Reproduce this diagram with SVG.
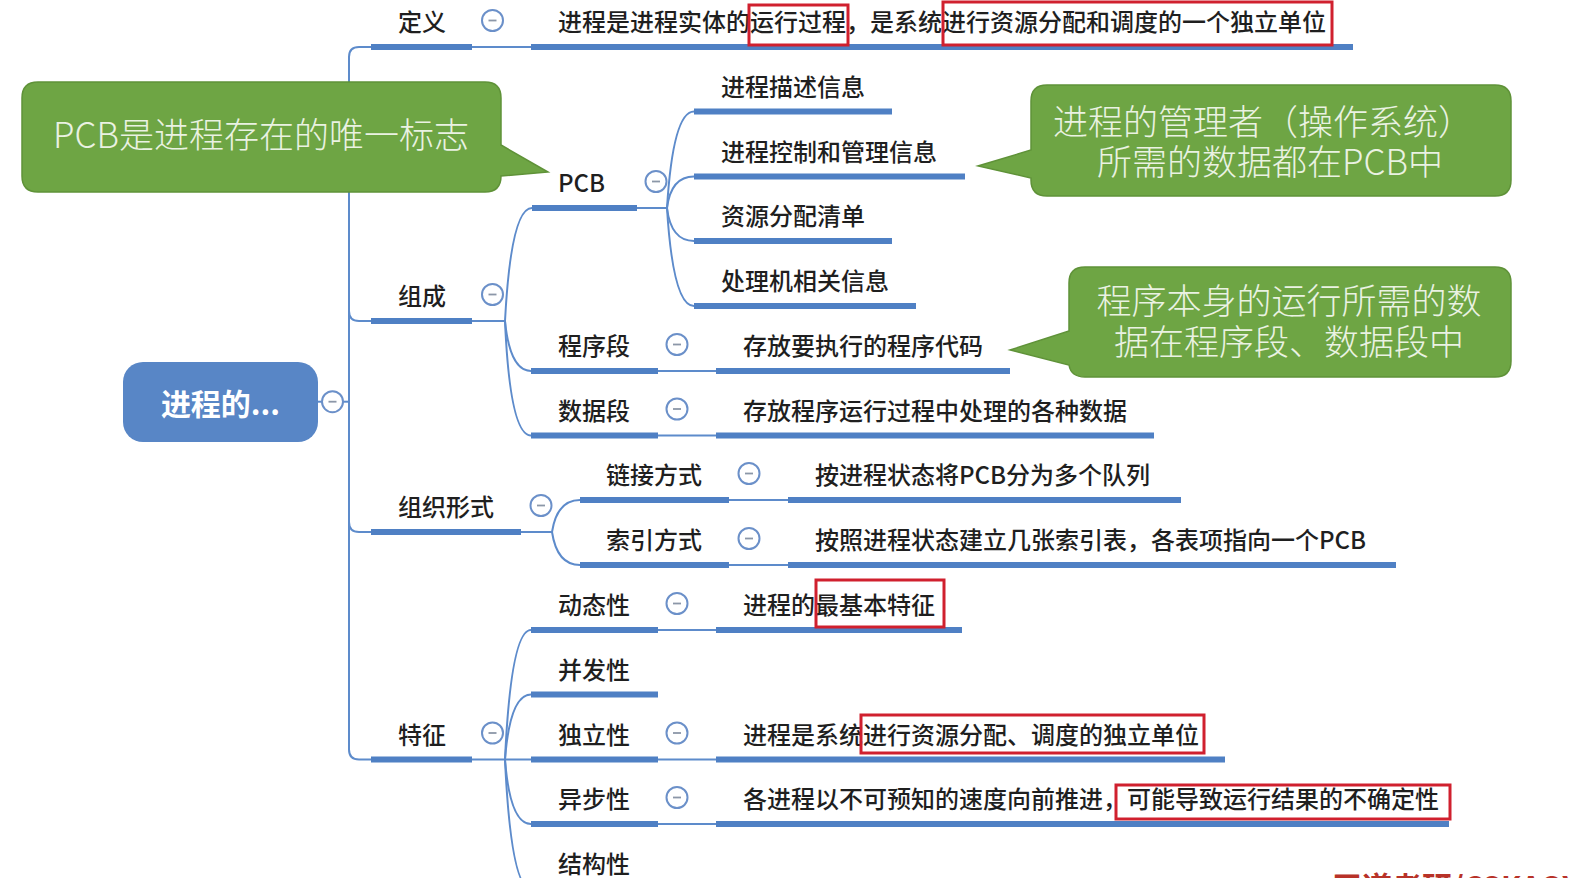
<svg xmlns="http://www.w3.org/2000/svg" xmlns:xlink="http://www.w3.org/1999/xlink" width="1572" height="878" viewBox="0 0 1572 878">
<style>
.bar{stroke:#4f80c4;stroke-width:6;fill:none}
.ln{stroke:#5d8bcb;stroke-width:2;fill:none}
.lbl{font-family:"Noto Sans CJK SC","Noto Sans",sans-serif;font-size:24px;font-weight:500;fill:#1f1f1f}
.co{fill:#6ea544;stroke:#5f9238;stroke-width:1.5}
.cot{font-family:"Noto Sans CJK SC","Noto Sans",sans-serif;font-size:35px;font-weight:300;fill:#eaf2e2;text-anchor:middle}
.red{fill:none;stroke:#d0202e;stroke-width:3}
</style>
<defs>
<g id="col"><circle r="10.5" fill="#fff" stroke="#6b90c9" stroke-width="2"/><line x1="-4" x2="4" y1="0" y2="0" stroke="#8c97a8" stroke-width="1.8"/></g>
</defs>
<rect width="1572" height="878" fill="#ffffff"/>

<g id="connectors">
<path class="ln" d="M318,401.7 H349"/>
<path class="ln" d="M371,47 H359 Q349,47 349,57 V749.5 Q349,759.5 359,759.5 H371"/>
<path class="ln" d="M349,311 Q349,321 359,321 H371"/>
<path class="ln" d="M349,522 Q349,532 359,532 H371"/>
<path class="ln" d="M472,47 H531"/>
<path class="ln" d="M472,321 H505"/>
<path class="ln" d="M505,321 Q511,208 532,208"/>
<path class="ln" d="M505,321 Q510,371 531,371"/>
<path class="ln" d="M505,321 Q510,435.5 531,435.5"/>
<path class="ln" d="M637,208 H667"/>
<path class="ln" d="M667,208 Q673,111.5 694,111.5"/>
<path class="ln" d="M667,208 Q671,176.5 694,176.5"/>
<path class="ln" d="M667,208 Q671,241 694,241"/>
<path class="ln" d="M667,208 Q673,306 694,306"/>
<path class="ln" d="M658,371 H716"/>
<path class="ln" d="M658,435.5 H716"/>
<path class="ln" d="M521,532 H552"/>
<path class="ln" d="M552,532 Q557,500 580,500"/>
<path class="ln" d="M552,532 Q557,565 580,565"/>
<path class="ln" d="M729,500 H788"/>
<path class="ln" d="M729,565 H788"/>
<path class="ln" d="M472,759.5 H531"/>
<path class="ln" d="M505,759.5 Q511,630 531,630"/>
<path class="ln" d="M505,759.5 Q510,694.5 531,694.5"/>
<path class="ln" d="M505,759.5 Q510,824 531,824"/>
<path class="ln" d="M505,759.5 Q511,889 531,889"/>
<path class="ln" d="M658,630 H716"/>
<path class="ln" d="M658,759.5 H716"/>
<path class="ln" d="M658,824 H716"/>
</g>

<g id="root">
<rect x="123" y="362" width="195" height="80" rx="20" fill="#5886c6"/>
<text x="220.5" y="415" text-anchor="middle" font-family="Noto Sans CJK SC, Noto Sans, sans-serif" font-size="30" font-weight="700" fill="#ffffff">进程的...</text>
<use xlink:href="#col" x="332.5" y="401.7"/>
</g>

<g id="n-dingyi">
<line class="bar" x1="371" y1="47" x2="472" y2="47"/>
<text class="lbl" x="398" y="31">定义</text>
<use xlink:href="#col" x="492.5" y="20.5"/>
</g>
<g id="n-dingyi-text">
<line class="bar" x1="531" y1="47" x2="1353" y2="47"/>
<text class="lbl" x="558" y="31">进程是进程实体的运行过程，是系统进行资源分配和调度的一个独立单位</text>
<rect class="red" x="749" y="5" width="99" height="40"/>
<rect class="red" x="943" y="2" width="389" height="43"/>
</g>

<g id="n-zucheng">
<line class="bar" x1="371" y1="321" x2="472" y2="321"/>
<text class="lbl" x="398" y="305">组成</text>
<use xlink:href="#col" x="492.5" y="294.5"/>
</g>
<g id="n-pcb">
<line class="bar" x1="532" y1="208" x2="637" y2="208"/>
<text class="lbl" x="558" y="192">PCB</text>
<use xlink:href="#col" x="656" y="181.5"/>
</g>
<g id="n-pcb1">
<line class="bar" x1="694" y1="111.5" x2="892" y2="111.5"/>
<text class="lbl" x="721" y="95.5">进程描述信息</text>
</g>
<g id="n-pcb2">
<line class="bar" x1="694" y1="176.5" x2="965" y2="176.5"/>
<text class="lbl" x="721" y="160.5">进程控制和管理信息</text>
</g>
<g id="n-pcb3">
<line class="bar" x1="694" y1="241" x2="892" y2="241"/>
<text class="lbl" x="721" y="225">资源分配清单</text>
</g>
<g id="n-pcb4">
<line class="bar" x1="694" y1="306" x2="916" y2="306"/>
<text class="lbl" x="721" y="290">处理机相关信息</text>
</g>
<g id="n-chengxuduan">
<line class="bar" x1="531" y1="371" x2="658" y2="371"/>
<text class="lbl" x="558" y="355">程序段</text>
<use xlink:href="#col" x="677" y="344.5"/>
</g>
<g id="n-chengxuduan-text">
<line class="bar" x1="716" y1="371" x2="1010" y2="371"/>
<text class="lbl" x="743" y="355">存放要执行的程序代码</text>
</g>
<g id="n-shujuduan">
<line class="bar" x1="531" y1="435.5" x2="658" y2="435.5"/>
<text class="lbl" x="558" y="419.5">数据段</text>
<use xlink:href="#col" x="677" y="409"/>
</g>
<g id="n-shujuduan-text">
<line class="bar" x1="716" y1="435.5" x2="1154" y2="435.5"/>
<text class="lbl" x="743" y="419.5">存放程序运行过程中处理的各种数据</text>
</g>

<g id="n-zuzhi">
<line class="bar" x1="371" y1="532" x2="521" y2="532"/>
<text class="lbl" x="398" y="516">组织形式</text>
<use xlink:href="#col" x="541" y="505.5"/>
</g>
<g id="n-lianjie">
<line class="bar" x1="580" y1="500" x2="729" y2="500"/>
<text class="lbl" x="606" y="484">链接方式</text>
<use xlink:href="#col" x="749" y="473.5"/>
</g>
<g id="n-lianjie-text">
<line class="bar" x1="788" y1="500" x2="1181" y2="500"/>
<text class="lbl" x="815" y="484">按进程状态将PCB分为多个队列</text>
</g>
<g id="n-suoyin">
<line class="bar" x1="580" y1="565" x2="729" y2="565"/>
<text class="lbl" x="606" y="549">索引方式</text>
<use xlink:href="#col" x="749" y="538.5"/>
</g>
<g id="n-suoyin-text">
<line class="bar" x1="788" y1="565" x2="1396" y2="565"/>
<text class="lbl" x="815" y="549">按照进程状态建立几张索引表，各表项指向一个PCB</text>
</g>

<g id="n-tezheng">
<line class="bar" x1="371" y1="759.5" x2="472" y2="759.5"/>
<text class="lbl" x="398" y="743.5">特征</text>
<use xlink:href="#col" x="492.5" y="733"/>
</g>
<g id="n-dongtai">
<line class="bar" x1="531" y1="630" x2="658" y2="630"/>
<text class="lbl" x="558" y="614">动态性</text>
<use xlink:href="#col" x="677" y="603.5"/>
</g>
<g id="n-dongtai-text">
<line class="bar" x1="716" y1="630" x2="962" y2="630"/>
<text class="lbl" x="743" y="614">进程的最基本特征</text>
<rect class="red" x="816" y="580" width="128" height="47"/>
</g>
<g id="n-bingfa">
<line class="bar" x1="531" y1="694.5" x2="658" y2="694.5"/>
<text class="lbl" x="558" y="678.5">并发性</text>
</g>
<g id="n-duli">
<line class="bar" x1="531" y1="759.5" x2="658" y2="759.5"/>
<text class="lbl" x="558" y="743.5">独立性</text>
<use xlink:href="#col" x="677" y="733"/>
</g>
<g id="n-duli-text">
<line class="bar" x1="716" y1="759.5" x2="1225" y2="759.5"/>
<text class="lbl" x="743" y="743.5">进程是系统进行资源分配、调度的独立单位</text>
<rect class="red" x="861" y="715" width="343" height="38"/>
</g>
<g id="n-yibu">
<line class="bar" x1="531" y1="824" x2="658" y2="824"/>
<text class="lbl" x="558" y="808">异步性</text>
<use xlink:href="#col" x="677" y="797.5"/>
</g>
<g id="n-yibu-text">
<line class="bar" x1="716" y1="824" x2="1449" y2="824"/>
<text class="lbl" x="743" y="808">各进程以不可预知的速度向前推进，可能导致运行结果的不确定性</text>
<rect class="red" x="1116" y="785" width="334" height="34"/>
</g>
<g id="n-jiegou">
<line class="bar" x1="531" y1="889" x2="658" y2="889"/>
<text class="lbl" x="558" y="873">结构性</text>
</g>

<g id="callout-1">
<path class="co" d="M38,82 H485 Q501,82 501,98 V145 L548,172 L501,176 Q501,192 485,192 H38 Q22,192 22,176 V98 Q22,82 38,82 Z"/>
<text class="cot" x="261" y="148">PCB是进程存在的唯一标志</text>
</g>
<g id="callout-2">
<path class="co" d="M1047,85 H1495 Q1511,85 1511,101 V180 Q1511,196 1495,196 H1047 Q1031,196 1031,180 V178 L978,166 L1031,150 V101 Q1031,85 1047,85 Z"/>
<text class="cot"><tspan x="1263" y="135">进程的管理者（操作系统）</tspan><tspan x="1270" y="175">所需的数据都在PCB中</tspan></text>
</g>
<g id="callout-3">
<path class="co" d="M1085,267 H1495 Q1511,267 1511,283 V361 Q1511,377 1495,377 H1085 Q1071,377 1069,365 L1010,350 L1069,331 V283 Q1069,267 1085,267 Z"/>
<text class="cot"><tspan x="1289" y="314">程序本身的运行所需的数</tspan><tspan x="1289" y="355">据在程序段、数据段中</tspan></text>
</g>

<text x="1332" y="898" font-family="Noto Sans CJK SC, Noto Sans, sans-serif" font-size="30" font-weight="700" fill="#b83228">王道考研/CSKAOYAN.COM</text>
</svg>
